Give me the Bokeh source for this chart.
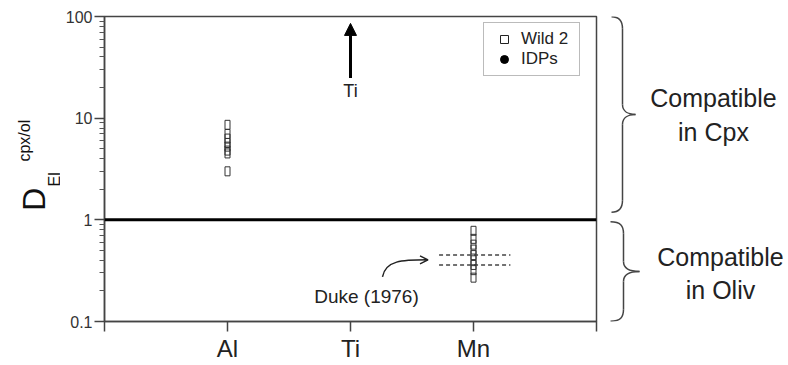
import math
from bokeh.plotting import figure
from bokeh.layouts import row
from bokeh.models import (Range1d, FixedTicker, Arrow, NormalHead, OpenHead,
                          Span, Legend, LegendItem)
from bokeh.embed import file_html
from bokeh.resources import INLINE
from bokeh.core.properties import value

FONT = "Liberation Sans"

# ---------------- data ----------------
categories = ["Al", "Ti", "Mn"]
cat_pos = [1, 2, 3]
al_values = [8.6, 7.0, 6.3, 5.7, 5.25, 4.8, 4.5, 3.0]
mn_values = [0.78, 0.65, 0.57, 0.51, 0.45, 0.40, 0.36, 0.32, 0.27]
idp_x = []
idp_y = []
ti_arrow = [24.8, 85.5]          # Ti: lower-bound arrow (from, to)
duke_values = [0.45, 0.36]       # Duke (1976) Mn partition coefficients
duke_span = [2.72, 3.30]
y_ticks = [0.1, 1, 10, 100]
y_tick_labels = ["0.1", "1", "10", "100"]
boundary = 1.0
cpx_range = [99.5, 1.19]
oliv_range = [0.956, 0.1005]
region_labels = ["Compatible\nin Cpx", "Compatible\nin Oliv"]
ylabel_parts = ["D", "El", "cpx/ol"]

H = 364
TOP = 16
BOT = 41
DEC = (H - TOP - BOT) / 3.0


def panel(width):
    f = figure(width=width, height=H, title=None, x_range=Range1d(0, width),
               y_range=Range1d(0.1, 100), y_axis_type="log",
               x_axis_location=None, y_axis_location=None,
               min_border_left=0, min_border_right=0, min_border_top=TOP,
               min_border_bottom=BOT, output_backend="svg", toolbar_location=None)
    f.outline_line_color = None
    f.xgrid.visible = False
    f.ygrid.visible = False
    return f


def ypx(px):
    """value on the log axis at a given pixel row of the panels"""
    return 10 ** (2 - (px - TOP) / DEC)


# ---------------- main figure ----------------
p = figure(width=538, height=H, title=None, x_range=Range1d(0, 4), y_range=Range1d(0.1, 100),
           y_axis_type="log", output_backend="svg", toolbar_location=None,
           min_border_left=44, min_border_right=2, min_border_top=TOP, min_border_bottom=BOT)
p.xgrid.visible = False
p.ygrid.visible = False
p.outline_line_color = "#444444"
p.outline_line_width = 1.5

edge_ticks = [0] + cat_pos + [4]
p.xaxis.ticker = FixedTicker(ticks=edge_ticks)
overrides = {0: "", 4: ""}
overrides.update({pos: c for pos, c in zip(cat_pos, categories)})
p.xaxis.major_label_overrides = overrides
p.xaxis.major_label_text_font = FONT
p.xaxis.major_label_text_font_size = "24px"
p.xaxis.major_label_text_color = "#222222"
p.xaxis.major_label_standoff = 3
p.xaxis.minor_tick_line_color = None

minor = [m * 10 ** e for e in (-1, 0, 1) for m in range(2, 10)]
p.yaxis.ticker = FixedTicker(ticks=y_ticks, minor_ticks=minor)
p.yaxis.major_label_overrides = dict(zip(y_ticks, y_tick_labels))
p.yaxis.major_label_text_font = FONT
p.yaxis.major_label_text_font_size = "16px"
p.yaxis.major_label_text_color = "#333333"
p.yaxis.major_label_standoff = 2
p.yaxis.minor_tick_out = 5
p.yaxis.minor_tick_in = 0
p.yaxis.minor_tick_line_color = "#555555"

for ax in (p.xaxis, p.yaxis):
    ax.axis_line_color = "#444444"
    ax.axis_line_width = 1.5
    ax.major_tick_line_color = "#444444"
    ax.major_tick_line_width = 1.5
    ax.major_tick_out = 10
    ax.major_tick_in = 0

p.add_layout(Span(location=boundary, dimension="width", line_color="black", line_width=3))

for v in duke_values:
    p.line(x=duke_span, y=[v, v], line_dash="4 3", line_color="#444444", line_width=1.5)

p.rect(x=[cat_pos[0]] * len(al_values), y=al_values, width=5, height=9,
       width_units="screen", height_units="screen", fill_color=None,
       line_color="#333333", line_width=1)
p.rect(x=[cat_pos[2]] * len(mn_values), y=mn_values, width=5, height=9,
       width_units="screen", height_units="screen", fill_color=None,
       line_color="#333333", line_width=1)

p.add_layout(Arrow(end=NormalHead(size=12, fill_color="black", line_color="black"),
                   x_start=cat_pos[1], y_start=ti_arrow[0], x_end=cat_pos[1], y_end=ti_arrow[1],
                   line_width=3, line_color="black"))
p.text(x=[cat_pos[1]], y=[18.3], text=["Ti"], text_font=value(FONT), text_font_size="18px",
       text_align="center", text_baseline="middle", text_color="#222222")

p.text(x=[2.13], y=[0.176], text=["Duke (1976)"], text_font=value(FONT), text_font_size="19px",
       text_align="center", text_baseline="alphabetic", text_color="#222222")
p.bezier(x0=[2.26], y0=[0.275], x1=[2.626], y1=[0.404], cx0=[2.285], cy0=[0.40],
         cx1=[2.42], cy1=[0.404], line_width=1.5, line_color="#222222")
p.add_layout(Arrow(end=OpenHead(size=8, line_width=1.5, line_color="#222222"),
                   x_start=2.60, y_start=0.404, x_end=2.63, y_end=0.404,
                   line_width=1.5, line_color="#222222"))

# legend-only renderers (NaN keeps them invisible on the plot)
nan = float("nan")
r_w = p.scatter(x=[nan], y=[nan], marker="square", size=9, fill_color="white",
                line_color="#222222", line_width=1)
r_i = p.scatter(x=idp_x + [nan], y=idp_y + [nan], marker="circle", size=9,
                fill_color="black", line_color="black")
legend = Legend(items=[LegendItem(label="Wild 2", renderers=[r_w]),
                       LegendItem(label="IDPs", renderers=[r_i])],
                location=(379, 245), padding=6, spacing=0, glyph_width=28, glyph_height=20,
                label_standoff=3, label_width=52, label_height=20, label_text_font=FONT,
                label_text_font_size="17px", label_text_color="#222222",
                border_line_color="#777777", border_line_width=1.5, margin=0)
p.add_layout(legend)

# ---------------- left panel: y-axis label D_El^cpx/ol ----------------
p0 = panel(60)
p0.text(x=[33], y=[ypx(200)], text=ylabel_parts[:1], angle=90, angle_units="deg",
        text_font=value(FONT), text_font_size="32px", text_align="center",
        text_baseline="middle", text_color="#111111")
p0.text(x=[54, 24], y=[ypx(180), ypx(141)], text=ylabel_parts[1:], angle=90,
        angle_units="deg", text_font=value(FONT), text_font_size="16px",
        text_align="center", text_baseline="middle", text_color="#111111")

# ---------------- right panel with braces ----------------
p2 = panel(188)


def dn(v, dpx):
    return v * 10 ** (-dpx / DEC)


def brace(top, bot, xe, xs, xt):
    mid = math.sqrt(top * bot)
    bz = dict(x0=[], y0=[], x1=[], y1=[], cx0=[], cy0=[], cx1=[], cy1=[])

    def add(a, c0, c1, b):
        bz["x0"].append(a[0]); bz["y0"].append(a[1])
        bz["cx0"].append(c0[0]); bz["cy0"].append(c0[1])
        bz["cx1"].append(c1[0]); bz["cy1"].append(c1[1])
        bz["x1"].append(b[0]); bz["y1"].append(b[1])
    add((xe, top), (xs - 3, top), (xs, dn(top, 4)), (xs, dn(top, 12)))
    add((xs, dn(mid, -10)), (xs, dn(mid, -3)), (xs + 6, mid), (xt, mid))
    add((xt, mid), (xs + 6, mid), (xs, dn(mid, 3)), (xs, dn(mid, 10)))
    add((xs, dn(bot, -12)), (xs, dn(bot, -4)), (xs - 3, bot), (xe, bot))
    p2.bezier(**bz, line_color="#444444", line_width=1.5)
    p2.segment(x0=[xs, xs], y0=[dn(top, 12), dn(mid, 10)], x1=[xs, xs],
               y1=[dn(mid, -10), dn(bot, -12)], line_color="#444444", line_width=1.5)
    return mid


m1 = brace(cpx_range[0], cpx_range[1], 13, 24, 37)
m2 = brace(oliv_range[0], oliv_range[1], 12, 25, 41)

p2.text(x=[115, 122], y=[dn(m1, 0.6), dn(m2, 2)], text=region_labels, text_font=value(FONT),
        text_font_size="25px", text_align="center", text_baseline="middle",
        text_line_height=1.2, text_color="#222222")

layout = row(p0, p, p2)
open("out.html", "w").write(file_html(layout, INLINE))
